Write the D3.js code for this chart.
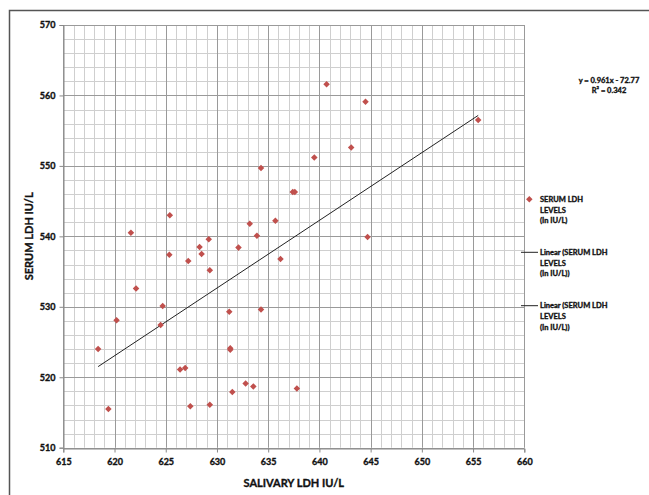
<!DOCTYPE html>
<html>
<head>
<meta charset="utf-8">
<script src="https://cdn.jsdelivr.net/npm/d3@7"></script>
<style>
  html, body { margin: 0; padding: 0; background: #fff; }
  svg { display: block; }
  text { font-family: Lato, "Open Sans", "Liberation Sans", sans-serif; font-weight: bold; fill: #111; stroke: #111; stroke-width: 0.35px; }
</style>
</head>
<body>
<svg id="chart" width="649" height="495"></svg>
<script>
// ---- data ----
const salivary = [640.7, 644.5, 655.5, 643.1, 639.5, 634.3, 637.4, 637.6, 625.4, 635.7,
                  633.2, 621.6, 633.9, 644.7, 629.2, 628.3, 632.1, 625.35, 628.5, 627.2,
                  636.2, 629.3, 622.1, 624.7, 631.2, 634.3, 620.2, 624.5, 618.4, 631.3,
                  631.3, 626.4, 626.9, 632.8, 633.55, 637.8, 631.5, 627.4, 629.3, 619.4];
const serum    = [561.6, 559.1, 556.5, 552.6, 551.2, 549.7, 546.3, 546.3, 543.0, 542.2,
                  541.8, 540.5, 540.1, 539.9, 539.6, 538.5, 538.4, 537.4, 537.5, 536.5,
                  536.8, 535.2, 532.6, 530.1, 529.3, 529.6, 528.1, 527.4, 524.0, 524.1,
                  523.9, 521.1, 521.3, 519.1, 518.7, 518.4, 517.9, 515.9, 516.1, 515.5];
const xTicks = [615, 620, 625, 630, 635, 640, 645, 650, 655, 660];
const yTicks = [510, 520, 530, 540, 550, 560, 570];
const trendSlope = 0.961;
const trendIntercept = -72.77;
const equationLabel = "y = 0.961x - 72.77";
const r2Label = "R² = 0.342";
const xTitle = "SALIVARY LDH IU/L";
const yTitle = "SERUM LDH IU/L";
const legendSeries = ["SERUM LDH", "LEVELS", "(In IU/L)"];
const legendLinear = ["Linear (SERUM LDH", "LEVELS", "(In IU/L))"];

// ---- layout ----
const svg = d3.select("#chart");
const x = d3.scaleLinear().domain([615, 660]).range([63.3, 524.3]);
const y = d3.scaleLinear().domain([510, 570]).range([447.7, 25]);
const red = "#c0504d";

// frame
svg.append("rect").attr("x", 9.5).attr("y", 10.5).attr("width", 700).attr("height", 600)
  .attr("fill", "none").attr("stroke", "#555").attr("stroke-width", 1.5);

// minor grid
const g = svg.append("g");
const minorX = d3.range(615, 661, 1);
const minorY = d3.range(510, 571, 2);
g.selectAll(".mx").data(minorX).join("line")
  .attr("x1", d => Math.round(x(d)) + 0.5).attr("x2", d => Math.round(x(d)) + 0.5)
  .attr("y1", y(570)).attr("y2", y(510))
  .attr("stroke", "#cfcfcf").attr("stroke-width", 1);
g.selectAll(".my").data(minorY).join("line")
  .attr("y1", d => Math.round(y(d)) + 0.5).attr("y2", d => Math.round(y(d)) + 0.5)
  .attr("x1", x(615)).attr("x2", x(660))
  .attr("stroke", "#cfcfcf").attr("stroke-width", 1);
// major grid
g.selectAll(".Mx").data(xTicks).join("line")
  .attr("x1", d => Math.round(x(d)) + 0.5).attr("x2", d => Math.round(x(d)) + 0.5)
  .attr("y1", y(570)).attr("y2", y(510))
  .attr("stroke", "#9a9a9a").attr("stroke-width", 1);
g.selectAll(".My").data(yTicks).join("line")
  .attr("y1", d => Math.round(y(d)) + 0.5).attr("y2", d => Math.round(y(d)) + 0.5)
  .attr("x1", x(615)).attr("x2", x(660))
  .attr("stroke", "#9a9a9a").attr("stroke-width", 1);

// axes
const xAxis = d3.axisBottom(x).tickValues(xTicks).tickSize(4).tickPadding(6).tickFormat(d3.format("d"));
const yAxis = d3.axisLeft(y).tickValues(yTicks).tickSize(4).tickPadding(4).tickFormat(d3.format("d"));
const xa = svg.append("g").attr("transform", `translate(0,${Math.round(y(510)) + 0.5})`).call(xAxis);
const ya = svg.append("g").attr("transform", `translate(${Math.round(x(615)) + 0.5},0)`).call(yAxis);
[xa, ya].forEach(a => {
  a.select(".domain").attr("stroke", "#888");
  a.selectAll(".tick line").attr("stroke", "#888");
  a.selectAll(".tick text").style("font-size", "9px").style("font-weight", "bold")
    .style("font-family", "Lato, 'Open Sans', sans-serif").attr("fill", "#111")
    .attr("stroke", "#111").attr("stroke-width", 0.35);
});

// trend line
const xmin = d3.min(salivary), xmax = d3.max(salivary);
svg.append("line")
  .attr("x1", x(xmin)).attr("y1", y(trendSlope * xmin + trendIntercept))
  .attr("x2", x(xmax)).attr("y2", y(trendSlope * xmax + trendIntercept))
  .attr("stroke", "#222").attr("stroke-width", 1);

// points
const diamond = d3.symbol().type(d3.symbolDiamond2).size(27);
svg.append("g").selectAll("path").data(salivary.map((v, i) => [v, serum[i]])).join("path")
  .attr("d", diamond)
  .attr("transform", d => `translate(${x(d[0])},${y(d[1])})`)
  .attr("fill", red);

// axis titles
svg.append("text").attr("x", (x(615) + x(660)) / 2).attr("y", 487)
  .attr("text-anchor", "middle").style("font-size", "11px").text(xTitle);
svg.append("text").attr("transform", `translate(33,${(y(510) + y(570)) / 2}) rotate(-90)`)
  .attr("text-anchor", "middle").style("font-size", "11px").text(yTitle);

// equation
svg.append("text").attr("x", 609).attr("y", 83).attr("text-anchor", "middle")
  .style("font-size", "7.5px").text(equationLabel);
svg.append("text").attr("x", 609).attr("y", 92.5).attr("text-anchor", "middle")
  .style("font-size", "7.5px").text(r2Label);

// legend
const lg = svg.append("g");
lg.append("path").attr("d", diamond).attr("transform", "translate(529.3,199.3)").attr("fill", red);
legendSeries.forEach((t, i) => lg.append("text").attr("x", 540).attr("y", 202 + i * 10.7)
  .style("font-size", "7.5px").text(t));
[252.3, 305.7].forEach(yy => {
  lg.append("line").attr("x1", 521).attr("x2", 538).attr("y1", yy).attr("y2", yy)
    .attr("stroke", "#222").attr("stroke-width", 1);
  legendLinear.forEach((t, i) => lg.append("text").attr("x", 540).attr("y", yy + 2.7 + i * 10.7)
    .style("font-size", "7.5px").text(t));
});
</script>
</body>
</html>
